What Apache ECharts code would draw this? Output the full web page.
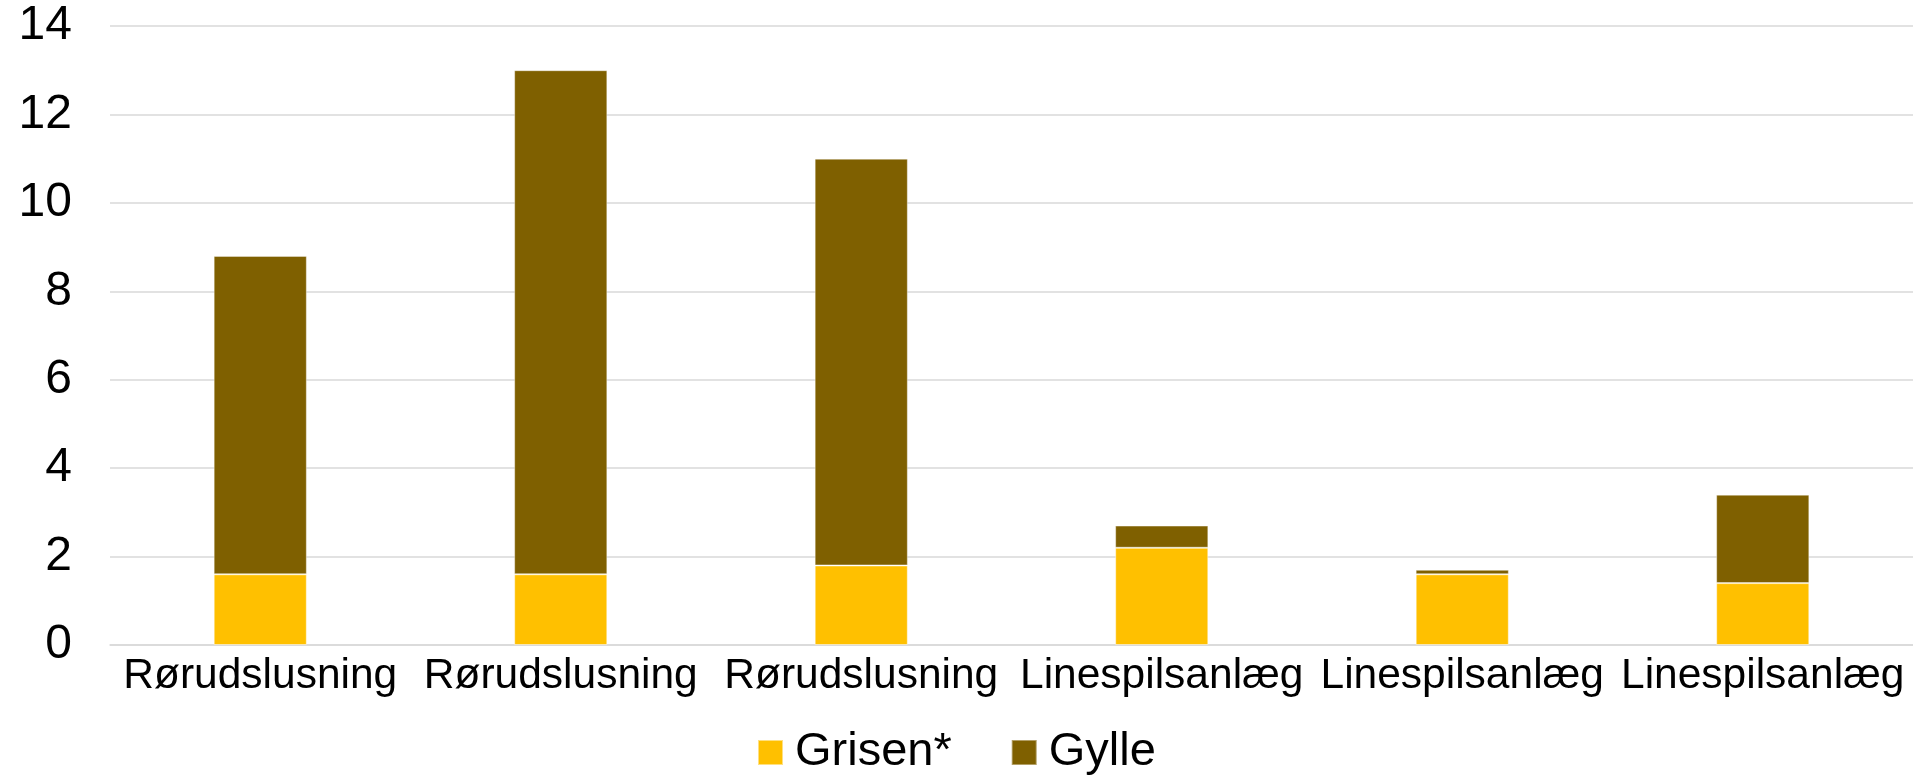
<!DOCTYPE html>
<html>
<head>
<meta charset="utf-8">
<script src="https://cdn.jsdelivr.net/npm/echarts@6/dist/echarts.min.js"></script>
<style>
  html, body { margin: 0; padding: 0; background: #fff; }
  #main { width: 1913px; height: 776px; }
</style>
</head>
<body>
<div id="main"></div>
<script>
var chartDom = document.getElementById('main');
var myChart = echarts.init(chartDom);
var option;

const categories = ['Rørudslusning', 'Rørudslusning', 'Rørudslusning', 'Linespilsanlæg', 'Linespilsanlæg', 'Linespilsanlæg'];
const grisenData = [1.6, 1.6, 1.8, 2.2, 1.6, 1.4];
const gylleData = [7.2, 11.4, 9.2, 0.5, 0.1, 2.0];

const grisenColor = '#FFC000';
const gylleColor = '#7F6000';
const fontName = '"Liberation Sans", Arial, sans-serif';

option = {
  animation: false,
  textStyle: { fontFamily: fontName },
  legend: {
    data: ['Grisen*', 'Gylle'],
    top: 724,
    left: 752,
    icon: 'rect',
    itemWidth: 25,
    itemHeight: 25,
    itemGap: 59,
    textStyle: {
      fontSize: 47,
      color: '#000',
      fontFamily: fontName,
      padding: [0, 0, 0, 7]
    }
  },
  grid: {
    left: 110,
    right: 0,
    top: 26,
    bottom: 131
  },
  xAxis: {
    type: 'category',
    data: categories,
    axisLine: { show: true, lineStyle: { color: '#d9d9d9', width: 1.5 } },
    axisTick: { show: false },
    axisLabel: {
      fontSize: 42.5,
      color: '#000',
      margin: 10,
      interval: 0,
      fontFamily: fontName
    }
  },
  yAxis: {
    type: 'value',
    min: 0,
    max: 14,
    interval: 2,
    axisLine: { show: false },
    axisTick: { show: false },
    splitLine: { lineStyle: { color: '#d9d9d9', width: 1.5 } },
    axisLabel: {
      fontSize: 48,
      color: '#000',
      margin: 38,
      fontFamily: fontName
    }
  },
  series: [
    {
      name: 'Grisen*',
      type: 'bar',
      stack: 'total',
      data: grisenData,
      barWidth: '31%',
      itemStyle: { color: grisenColor, borderColor: 'rgba(255,255,255,0.5)', borderWidth: 1 }
    },
    {
      name: 'Gylle',
      type: 'bar',
      stack: 'total',
      data: gylleData,
      barWidth: '31%',
      itemStyle: { color: gylleColor, borderColor: 'rgba(255,255,255,0.4)', borderWidth: 1 }
    }
  ]
};

option && myChart.setOption(option);
</script>
</body>
</html>
